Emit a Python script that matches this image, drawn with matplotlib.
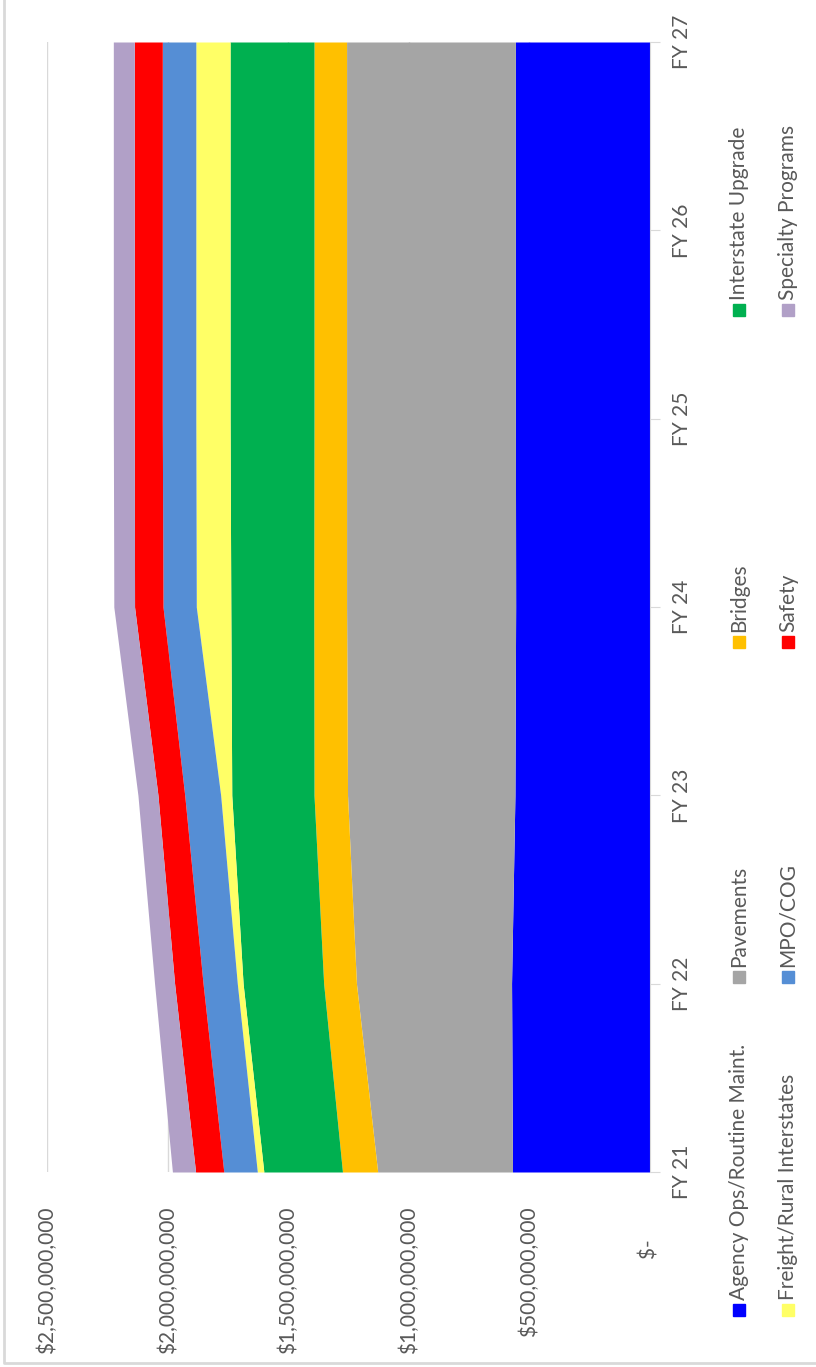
import numpy as np
import matplotlib
matplotlib.use('Agg')
import matplotlib.pyplot as plt
from matplotlib.patches import Rectangle
from matplotlib.lines import Line2D

plt.rcParams['font.family'] = ['Lato', 'DejaVu Sans']

years = ['FY 21', 'FY 22', 'FY 23', 'FY 24', 'FY 25', 'FY 26', 'FY 27']

# millions of dollars
agency_ops = [570, 574, 560, 557, 558, 558, 558]
pavements = [559, 643, 694, 701, 700, 700, 700]
bridges = [146, 136, 139, 136, 135, 135, 135]
interstate_upgrade = [326, 334, 341, 344, 348, 348, 348]
freight_rural = [27, 24, 46, 143, 142, 142, 142]
mpo_cog = [139, 142, 149, 138, 139, 139, 139]
safety = [117, 118, 111, 118, 116, 116, 116]
specialty = [96, 83, 83, 86, 87, 87, 87]

names = ['Agency Ops/Routine Maint.', 'Pavements', 'Bridges', 'Interstate Upgrade',
         'Freight/Rural Interstates', 'MPO/COG', 'Safety', 'Specialty Programs']
series = [agency_ops, pavements, bridges, interstate_upgrade,
          freight_rural, mpo_cog, safety, specialty]
colors = ['#0000FF', '#A5A5A5', '#FFC000', '#00B050',
          '#FFFF66', '#558ED5', '#FF0000', '#B1A0C7']

value_ticks = [0, 500e6, 1000e6, 1500e6, 2000e6, 2500e6]
value_labels = ['$-      ', '$500,000,000', '$1,000,000,000', '$1,500,000,000',
                '$2,000,000,000', '$2,500,000,000']

W, H = 816, 1367
fs = 15
fig = plt.figure(figsize=(W / 100, H / 100), dpi=100)
# chart is drawn turned on its side: categories run bottom->top, values right->left
ax = fig.add_axes([47 / W, 1 - 1172 / H, (650 - 47) / W, (1172 - 42) / H])

ypos = np.arange(len(years))
base = np.zeros(len(years))
for vals, c in zip(series, colors):
    top = base + np.array(vals) * 1e6
    ax.fill_betweenx(ypos, base, top, color=c, lw=0)
    base = top

ax.set_xlim(2500e6, 0)
ax.set_ylim(0, len(years) - 1)
ax.set_xticks(value_ticks)
ax.set_xticklabels(value_labels, rotation=90, color='#595959', fontsize=fs)
ax.tick_params(axis='x', length=0, pad=25)
ax.grid(axis='x', color='#D9D9D9', lw=1)
ax.set_axisbelow(True)

ax.yaxis.tick_right()
ax.set_yticks(ypos)
ax.set_yticklabels(years, rotation=90, va='center', color='#595959', fontsize=fs)
ax.tick_params(axis='y', length=7, color='#D9D9D9', pad=9)

for s in ['left', 'top', 'bottom']:
    ax.spines[s].set_visible(False)
ax.spines['right'].set_color('#D9D9D9')

# legend, two columns turned on the side
leg_x = [739, 739, 739, 739, 788, 788, 788, 788]
leg_y = [1310, 977, 642, 310, 1310, 977, 642, 310]
for name, c, lx, ly in zip(names, colors, leg_x, leg_y):
    fig.patches.append(Rectangle(((lx - 6) / W, 1 - (ly + 6) / H), 12 / W, 12 / H,
                                 transform=fig.transFigure, color=c))
    fig.text(lx / W, 1 - (ly - 10) / H, name, rotation=90, ha='center', va='bottom',
             color='#595959', fontsize=fs)

# chart frame (only left and bottom edges show in the picture)
fig.lines.append(Line2D([4 / W, 4 / W, 1], [1, 4 / H, 4 / H],
                        transform=fig.transFigure, color='#D9D9D9', lw=2))

fig.savefig('out.png', dpi=100)
